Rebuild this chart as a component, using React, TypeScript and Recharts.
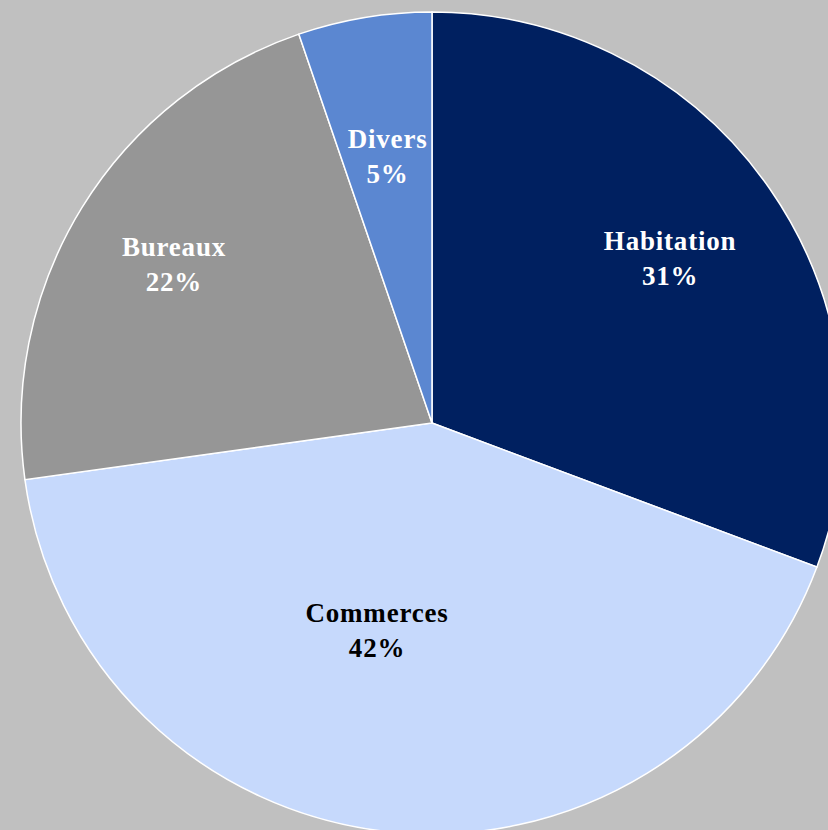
import { PieChart, Pie, Cell } from 'recharts'

// Share of surface by use (%), clockwise from 12 o'clock
const categories = ['Habitation', 'Commerces', 'Bureaux', 'Divers']
const shares = [30.7, 42.1, 21.95, 5.25]

const COLORS = ['#002060', '#C6D9FC', '#969696', '#5B87D1']
const LABEL_COLORS = ['#FFFFFF', '#000000', '#FFFFFF', '#FFFFFF']
// Excel "best fit" puts labels at different spots in each slice
const LABEL_DEPTH = [0.705, 0.52, 0.737, 0.658]
const LABEL_TURN = [0, -8.6, 0, 0]

const data = categories.map((name, i) => ({ name, value: shares[i] }))
const RADIAN = Math.PI / 180

function renderLabel(props: any) {
  const { cx, cy, midAngle, outerRadius, index, percent } = props
  const r = outerRadius * LABEL_DEPTH[index]
  const a = (midAngle + LABEL_TURN[index]) * RADIAN
  const x = cx + r * Math.cos(-a)
  const y = cy + r * Math.sin(-a)
  return (
    <text
      x={x}
      y={y}
      fill={LABEL_COLORS[index]}
      textAnchor="middle"
      fontFamily="'Liberation Serif', serif"
      fontWeight="bold"
      fontSize={27}
      letterSpacing={0.8}
    >
      <tspan x={x} dy={-8}>{categories[index]}</tspan>
      <tspan x={x} dy={35}>{`${Math.round(percent * 100)}%`}</tspan>
    </text>
  )
}

export default function App() {
  return (
    <div style={{ position: 'fixed', left: 0, top: 0, width: 828, height: 830, background: '#C0C0C0', overflow: 'hidden' }}>
      <PieChart width={828} height={830} margin={{ top: 0, right: 0, bottom: 0, left: 0 }}>
        <Pie
          data={data}
          dataKey="value"
          nameKey="name"
          cx={432}
          cy={423}
          outerRadius={411}
          startAngle={90}
          endAngle={-270}
          stroke="#FFFFFF"
          strokeWidth={1.5}
          label={renderLabel}
          labelLine={false}
          isAnimationActive={false}
        >
          {data.map((_, i) => (
            <Cell key={i} fill={COLORS[i]} />
          ))}
        </Pie>
      </PieChart>
    </div>
  )
}
